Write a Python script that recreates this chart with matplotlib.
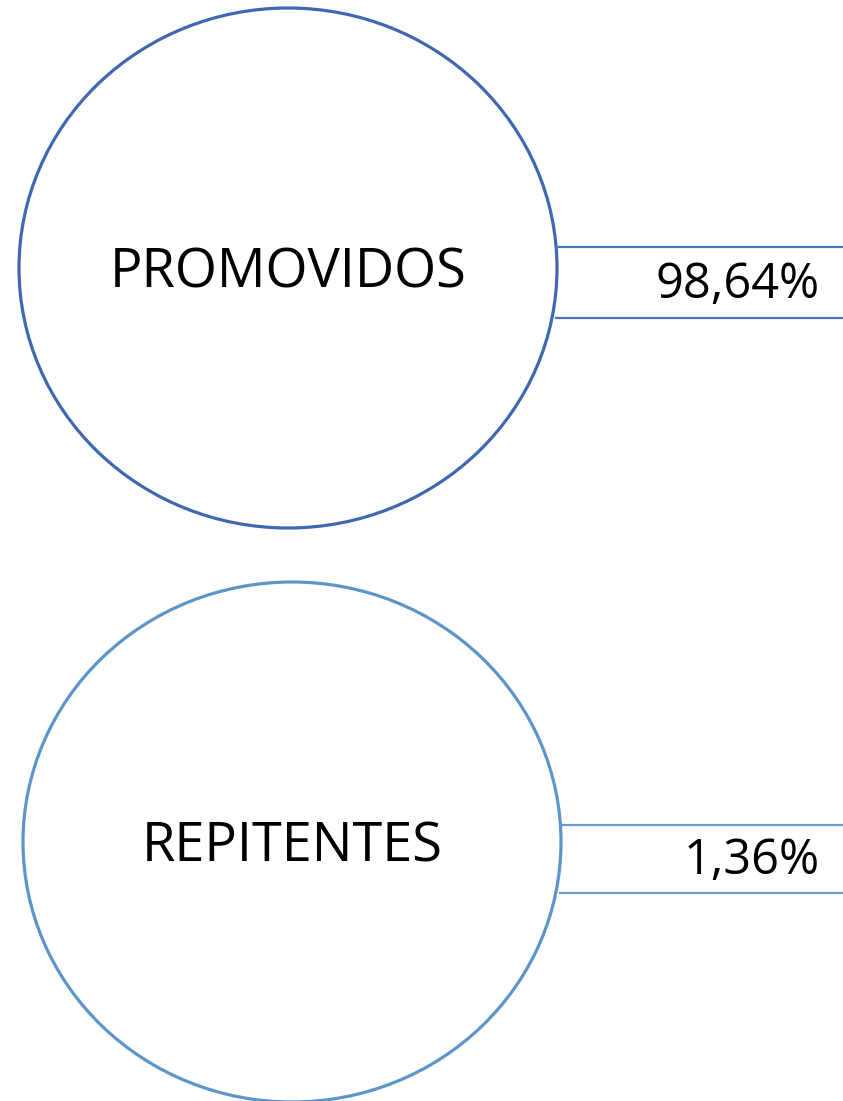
import matplotlib
matplotlib.use("Agg")
import matplotlib.pyplot as plt
from matplotlib.patches import Ellipse

# data
labels = ["PROMOVIDOS", "REPITENTES"]
values = [98.64, 1.36]
colors = ["#4068B2", "#5B95CA"]
line_colors = ["#4A74C2", "#6A9FD3"]

# layout in pixel units (figure is 843x1101)
centers = [(288, 268), (292, 842)]
rx, ry = 269, 260
band_mid = [14.5, 17]      # offset of the band centre from circle centre
band_half = [35.5, 34]
label_base = [19, 20]      # baseline offset of circle label
value_base = [30, 32]      # baseline offset of value text

plt.rcParams['font.family'] = ['Open Sans', 'DejaVu Sans']

fig = plt.figure(figsize=(8.43, 11.01), dpi=100)
ax = fig.add_axes([0, 0, 1, 1])
ax.set_xlim(0, 843)
ax.set_ylim(1101, 0)
ax.axis("off")

for i, lab in enumerate(labels):
    cx, cy = centers[i]
    ax.add_patch(Ellipse((cx, cy), 2 * rx, 2 * ry, fill=False,
                         edgecolor=colors[i], lw=2.3))
    x0 = cx + rx - 1
    ym = cy + band_mid[i]
    for dy in (-band_half[i], band_half[i]):
        ax.plot([x0, 843], [ym + dy, ym + dy], color=line_colors[i], lw=1.6)
    ax.text(cx, cy + label_base[i], lab, ha="center", va="baseline",
            fontsize=39, color="black")
    ax.text(820, cy + value_base[i], ("%.2f%%" % values[i]).replace(".", ","),
            ha="right", va="baseline", fontsize=35, color="black")

fig.savefig("out.png", dpi=100)
